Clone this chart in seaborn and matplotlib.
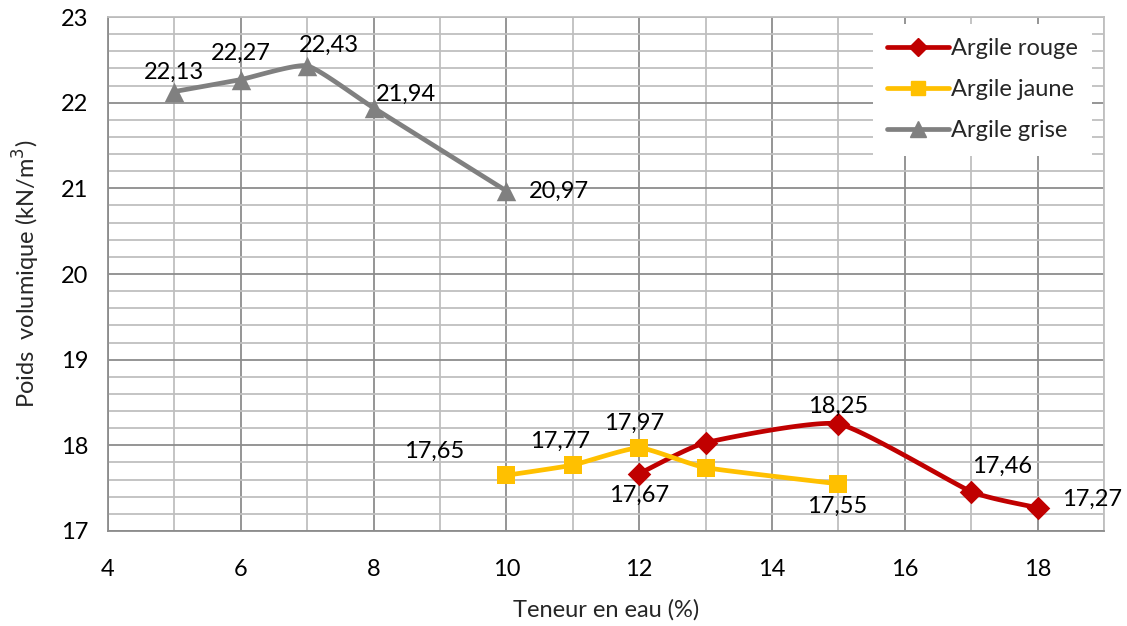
import numpy as np
import matplotlib
matplotlib.use("Agg")
import matplotlib.pyplot as plt
import seaborn as sns
from matplotlib.ticker import MultipleLocator

sns.set_theme(style="white")
plt.rcParams['font.family'] = ['Lato', 'DejaVu Sans']

# Data
rouge_x = [12, 13, 15, 17, 18]
rouge_y = [17.67, 18.03, 18.25, 17.46, 17.27]
jaune_x = [10, 11, 12, 13, 15]
jaune_y = [17.65, 17.77, 17.97, 17.74, 17.55]
grise_x = [5, 6, 7, 8, 10]
grise_y = [22.13, 22.27, 22.43, 21.94, 20.97]
labels_rouge = [True, False, True, True, True]
labels_jaune = [True, True, True, False, True]
labels_grise = [True, True, True, True, True]

FS = 17

series = [
    ("Argile rouge", rouge_x, rouge_y, "#C00000", "D", 12, labels_rouge,
     [(0, -16), None, (0, 13), (22, 18), (39, 6)]),
    ("Argile jaune", jaune_x, jaune_y, "#FFC000", "s", 13, labels_jaune,
     [(-52, 17), (-9, 17), (-4, 18), None, (-1, -16)]),
    ("Argile grise", grise_x, grise_y, "#808080", "^", 14, labels_grise,
     [(0, 14), (0, 19), (16, 15), (23, 10), (38, 0)]),
]


def catmull_rom(xs, ys, n=30):
    xs = np.asarray(xs, float)
    ys = np.asarray(ys, float)
    P = np.column_stack([xs, ys])
    P = np.vstack([P[0] - (P[1] - P[0]), P, P[-1] + (P[-1] - P[-2])])
    out = []
    for i in range(1, len(P) - 2):
        p0, p1, p2, p3 = P[i - 1], P[i], P[i + 1], P[i + 2]
        m1 = 0.5 * (p2 - p0) * 0.5
        m2 = 0.5 * (p3 - p1) * 0.5
        t = np.linspace(0, 1, n)[:, None]
        h00 = 2 * t**3 - 3 * t**2 + 1
        h10 = t**3 - 2 * t**2 + t
        h01 = -2 * t**3 + 3 * t**2
        h11 = t**3 - t**2
        seg = h00 * p1 + h10 * m1 + h01 * p2 + h11 * m2
        out.append(seg if i == 1 else seg[1:])
    pts = np.vstack(out)
    return pts[:, 0], pts[:, 1]


fig = plt.figure(figsize=(11.27, 6.26), dpi=100)
ax = fig.add_axes([0.0958, 0.1518, 0.8838, 0.821])

handles = []
for name, xs, ys, color, marker, ms, lab, offs in series:
    sx, sy = catmull_rom(xs, ys)
    ax.plot(sx, sy, color=color, lw=3.4, zorder=3, solid_capstyle='round')
    sns.scatterplot(x=xs, y=ys, ax=ax, marker=marker, color=color, s=ms**2,
                    edgecolor=color, linewidth=0, zorder=4)
    h, = ax.plot([], [], color=color, lw=3.4, marker=marker, markersize=ms * 0.8,
                 markeredgecolor=color, label=name)
    handles.append(h)
    for x, y, show, off in zip(xs, ys, lab, offs):
        if show and off is not None:
            ax.annotate(f"{y:.2f}".replace(".", ","), (x, y), xytext=off,
                        textcoords="offset points", ha="center", va="center",
                        fontsize=FS, color="#000000", zorder=5)

ax.set_xlim(4, 19)
ax.set_ylim(17, 23)
ax.xaxis.set_major_locator(MultipleLocator(2))
ax.xaxis.set_minor_locator(MultipleLocator(1))
ax.yaxis.set_major_locator(MultipleLocator(1))
ax.yaxis.set_minor_locator(MultipleLocator(0.2))
ax.grid(which="major", color="#8c8c8c", lw=1.3, zorder=0)
ax.grid(which="minor", color="#bfbfbf", lw=1.3, zorder=0)
ax.set_axisbelow(True)
for sp in ax.spines.values():
    sp.set_color("#bfbfbf")
    sp.set_linewidth(1.3)
ax.spines["left"].set_color("#8c8c8c")
ax.spines["bottom"].set_color("#8c8c8c")
ax.tick_params(axis="both", which="both", length=0, labelsize=FS, colors="#000000")
ax.tick_params(axis="x", pad=20)
ax.tick_params(axis="y", pad=14)
ax.set_xlabel("Teneur en eau (%)", fontsize=FS, labelpad=14)
ax.set_ylabel("Poids  volumique (kN/m$^3$)", fontsize=FS, labelpad=14)

leg = ax.legend(handles=handles, loc="upper right", fontsize=FS, frameon=True,
                fancybox=False, framealpha=1.0, edgecolor="white",
                handlelength=2.6, borderpad=0.6, labelspacing=0.85,
                handletextpad=0.1, borderaxespad=0.3,
                bbox_to_anchor=(0.995, 1.0))
leg.get_frame().set_linewidth(0)
leg.set_zorder(6)

fig.savefig("out.png", dpi=100)
